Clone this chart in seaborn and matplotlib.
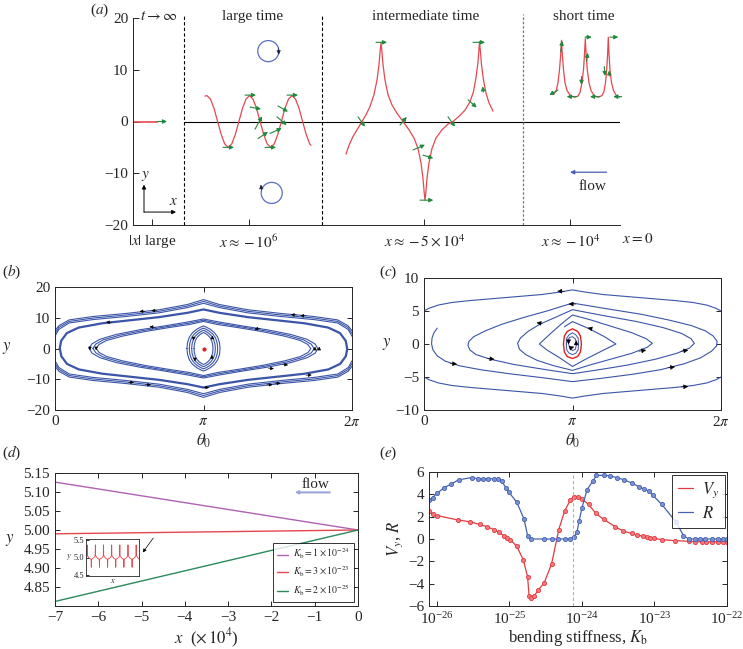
import numpy as np
import pandas as pd
import matplotlib.pyplot as plt
import seaborn as sns
from matplotlib.lines import Line2D

sns.set_style('ticks')
plt.rcParams.update({
    'font.family': 'serif',
    'font.serif': ['Liberation Serif', 'DejaVu Serif'],
    'mathtext.fontset': 'stix',
    'font.size': 11,
    'xtick.direction': 'in',
    'ytick.direction': 'in',
    'axes.linewidth': 0.7,
    'xtick.major.width': 0.7,
    'ytick.major.width': 0.7,
    'xtick.major.size': 4,
    'ytick.major.size': 4,
    'xtick.labelsize': 11,
    'ytick.labelsize': 11,
})

RED = '#e5474f'
GREEN = '#1f8a3c'
BLUE = '#3b55a8'
TWO_PI = 2 * np.pi

# ---------------- panel (a) data (x in schematic units) ----------------
a_tick_pos = [152, 249, 424.3, 570.3]
a_tick_labels = [r'$|x|$ large', r'$x \approx -10^6$', r'$x \approx -5 \times 10^4$', r'$x \approx -10^4$']
a_region_x = [184.3, 321.7, 522.7]
a_headers = [r'$t \rightarrow \infty$', 'large time', 'intermediate time', 'short time']
a_header_x = [140, 253, 426, 584]

large_x = [205, 207, 210.5, 214.1, 217.6, 221.2, 224.7, 228.25, 231.8, 235.3, 238.9, 242.4, 246,
           249.5, 253, 256.6, 260.1, 263.7, 267.2, 270.75, 274.3, 277.8, 281.4, 284.9, 288.5,
           292, 295.5, 299.1, 302.6, 306.2, 309.7, 311]
large_y = [4.9, 5, 4.33, 2.5, 0, -2.5, -4.33, -5, -4.33, -2.5, 0, 2.5, 4.33,
           5, 4.33, 2.5, 0, -2.5, -4.33, -5, -4.33, -2.5, 0, 2.5, 4.33,
           5, 4.33, 2.5, 0, -2.5, -4.33, -4.6]

inter_x = [346, 349, 353, 358, 362, 366, 370, 374, 377, 379, 380.3, 381,
           381.7, 383, 385, 388, 392, 397, 403, 409, 414, 418, 421, 423, 424.3, 425,
           425.7, 427, 429, 432, 436, 442, 448, 453, 459, 465, 470, 473.5, 476, 478, 479, 479.5,
           480.2, 481.5, 483.5, 486, 489, 493]
inter_y = [-6.3, -4.6, -2.9, -1.3, 0, 1.3, 2.9, 5.2, 8, 11, 14, 15.2,
           14, 11, 8, 5.2, 3.2, 1.6, 0, -1.6, -3.2, -5.2, -8, -11, -14, -15.2,
           -14, -11, -8, -5.2, -3.2, -1.6, -0.5, 0, 1, 2.2, 3.8, 5.8, 8.5, 11.5, 14, 15.4,
           14, 11, 8, 5.5, 3.6, 2.0]

short_x = [553, 556, 558, 559.5, 560.7, 561.5, 562.3, 563.5, 565, 567, 570, 574, 578, 580, 582,
           583.5, 584.5, 585.3, 586.1, 587.3, 589, 591, 594, 598, 602, 604, 605.5, 606.7,
           607.6, 608.3, 609, 610, 611.5, 613.5, 616, 620]
short_y = [5.2, 5.8, 7.5, 10, 13, 15.7, 13, 10, 7.5, 6, 5.1, 4.7, 4.9, 5.6, 7.5,
           10, 13, 16, 13, 10, 7.5, 6, 5.0, 4.7, 5.0, 5.8, 7.5, 10,
           13, 16.3, 13, 10, 7.5, 6, 5.1, 4.7]

# green arrows: tail x, tail y, head x, head y
a_arrow_x0 = [157, 245, 287, 223, 265, 250, 255, 258, 278, 277, 270,
              376, 358, 400, 413, 423, 420, 448, 468, 483.3, 473,
              558, 560.7, 576.7, 581.7, 585, 586.7, 600, 604.3, 609.3, 610, 621.7]
a_arrow_y0 = [0, 5.1, 5.1, -5, -5, 2.8, -1.5, -3.3, 3.0, 0.9, -2.3,
              15.3, 0.9, -0.7, -5.5, -6.5, -15.2, 0.9, 4.2, 5.7, 15.3,
              6.1, 13.5, 4.8, 8.7, 16.3, 11.6, 4.8, 10.6, 8.8, 16.3, 4.8]
a_arrow_x1 = [167, 256, 298, 234, 276, 261, 262, 268, 288, 286.7, 281.7,
              387, 365, 406.7, 425, 433.3, 433.3, 455, 476.7, 482.7, 485,
              549.3, 562.3, 566.7, 581.3, 591.7, 587.7, 590, 605, 609.3, 618.3, 613.3]
a_arrow_y1 = [0, 5.1, 5.1, -5, -5, 2.4, 1.0, -2.0, 1.9, -0.7, -1.3,
              15.3, -1.0, 0.9, -4.5, -7.1, -15.2, -1.0, 2.7, 6.8, 15.3,
              5.1, 15.6, 4.8, 7.1, 16.3, 13.3, 4.8, 8.8, 9.9, 16.3, 4.8]

vortex_x = [268.3, 271.7]
vortex_y = [13.6, -13.8]

# ---------------- panel (b) data ----------------
ob_x = [0, 0.08, 0.3, 0.8, 1.5, 2.2, 2.8, np.pi, 3.48, 4.08, 4.78, 5.48, 5.98, 6.20, TWO_PI]
ob_y1 = [5.8, 7.4, 9.3, 10.4, 11.4, 12.6, 14.3, 15.9, 14.3, 12.6, 11.4, 10.4, 9.3, 7.4, 5.8]
ob_y2 = [4.9, 6.8, 8.8, 9.9, 10.9, 12.1, 13.8, 15.3, 13.8, 12.1, 10.9, 9.9, 8.8, 6.8, 4.9]
ob_y3 = [4.0, 6.2, 8.3, 9.4, 10.4, 11.6, 13.3, 14.7, 13.3, 11.6, 10.4, 9.4, 8.3, 6.2, 4.0]

thick_x = [0.10, 0.13, 0.25, 0.5, 1.0, 1.6, 2.2, 2.8, np.pi, 3.48, 4.08, 4.68, 5.28, 5.78, 6.03, 6.15, 6.18]
thick_y = [0, 2.5, 5.0, 6.8, 8.2, 9.2, 10.2, 11.6, 12.7, 11.6, 10.2, 9.2, 8.2, 6.8, 5.0, 2.5, 0]

lens1_x = [0.72, 0.78, 0.95, 1.3, 1.8, 2.3, 2.8, np.pi, 3.48, 3.98, 4.48, 4.98, 5.33, 5.50, 5.56]
lens1_y = [0, 1.5, 3.0, 4.6, 6.1, 7.3, 8.6, 9.6, 8.6, 7.3, 6.1, 4.6, 3.0, 1.5, 0]
lens2_x = [0.80, 0.86, 1.02, 1.36, 1.85, 2.33, 2.82, np.pi, 3.46, 3.95, 4.43, 4.92, 5.26, 5.42, 5.48]
lens2_y = [0, 1.4, 2.8, 4.3, 5.8, 7.0, 8.2, 9.2, 8.2, 7.0, 5.8, 4.3, 2.8, 1.4, 0]
lens3_x = [0.87, 0.93, 1.09, 1.42, 1.90, 2.37, 2.84, np.pi, 3.44, 3.91, 4.38, 4.86, 5.19, 5.35, 5.41]
lens3_y = [0, 1.3, 2.6, 4.0, 5.5, 6.7, 7.8, 8.8, 7.8, 6.7, 5.5, 4.0, 2.6, 1.3, 0]

oval_fx = [-1, -0.97, -0.86, -0.67, -0.42, -0.18, 0, 0.18, 0.42, 0.67, 0.86, 0.97, 1]
oval_fy = [0, 0.25, 0.5, 0.7, 0.85, 0.95, 1, 0.95, 0.85, 0.7, 0.5, 0.25, 0]
oval_half_width = [0.35, 0.30, 0.25, 0.20]
oval_height = [7.3, 6.6, 5.9, 5.2]

b_arr_x = [1.91, 2.16, 1.20, 2.12, 4.34, 5.11, 5.31, 0.74, 0.87, 5.50, 5.59,
           1.55, 1.91, 4.48, 4.65, 4.51, 4.81, 5.31, np.pi, 2.93, 3.33, 3.32, 2.96]
b_arr_y = [12.1, 12.3, 8.5, 6.9, 6.5, 10.9, 10.6, 0.3, 0.3, -0.3, -0.3,
           -11.0, -11.8, -11.8, -11.3, -6.4, -5.2, -8.7, -12.7, 3.5, 3.3, -3.0, -3.3]
b_arr_dx = [-1, -1, -1, -1, -1, -1, -1, 0, 0, 0, 0,
            1, 1, 1, 1, 1, 1, 1, 1, 0, 0, 0, 0]
b_arr_dy = [0, 0, 0.1, 0.2, -0.2, 0.1, 0.1, -1, -1, 1, 1,
            0, 0, 0, 0, -0.2, -0.2, 0.1, 0, -1, 1, 1, -1]

# ---------------- panel (c) data ----------------
c_top_x = [0, 0.1, 0.3, 0.6, 1.0, 1.5, 2.0, 2.5, 2.9, np.pi,
           3.38, 3.78, 4.28, 4.78, 5.28, 5.68, 5.98, 6.18, TWO_PI]
c_top_y = [5.0, 5.4, 5.9, 6.3, 6.6, 6.9, 7.2, 7.5, 7.9, 8.2,
           7.9, 7.5, 7.2, 6.9, 6.6, 6.3, 5.9, 5.4, 5.0]

spiral_x = [0.28, 0.21, 0.17, 0.16, 0.19, 0.28, 0.45, 0.75, 1.2, 1.8, 2.5, np.pi, 3.75, 4.4, 5.0,
            5.5, 5.85, 6.08, 6.19, 6.2, 6.12, 5.95, 5.65, 5.2, 4.6, 3.9, np.pi, 2.6, 2.1, 1.65,
            1.3, 1.05, 0.95, 0.93,
            0.97, 1.1, 1.4, 1.9, 2.5, np.pi, 3.7, 4.3, 4.9, 5.35, 5.62, 5.72, 5.65, 5.45, 5.05,
            4.5, 3.8, np.pi, 2.8, 2.45, 2.2, 2.04, 1.98,
            2.02, 2.15, 2.4, 2.75, np.pi, 3.5, 3.95, 4.4, 4.72, 4.83, 4.7, 4.4, 3.95, 3.55,
            np.pi, 2.9, 2.68, 2.44,
            2.6, 2.85, np.pi, 3.42, 3.75, 4.06, 3.82, 3.5, np.pi, 2.97]
spiral_y = [2.4, 1.7, 0.9, 0, -0.9, -1.8, -2.6, -3.3, -3.9, -4.5, -5.1, -5.7, -5.2, -4.6, -3.9,
            -3.0, -2.1, -1.1, -0.3, 0.4, 1.2, 2.0, 2.8, 3.6, 4.5, 5.3, 6.2, 5.0, 4.0, 3.0,
            2.0, 1.1, 0.4, -0.2,
            -0.9, -1.6, -2.3, -3.1, -3.8, -4.5, -3.9, -3.2, -2.3, -1.4, -0.6, 0.1, 0.8, 1.6, 2.5,
            3.4, 4.3, 5.2, 4.1, 3.0, 1.9, 0.9, 0.1,
            -0.8, -1.6, -2.5, -3.3, -4.0, -3.2, -2.3, -1.4, -0.5, 0.1, 0.8, 1.7, 2.7, 3.6,
            4.4, 3.0, 1.6, 0,
            -0.9, -2.0, -3.4, -2.3, -1.1, 0, 1.1, 2.3, 3.4, 2.6]

cycle_x = [2.95, 2.97, 3.03, np.pi, 3.25, 3.31, 3.33, 3.31, 3.25, np.pi, 3.03, 2.97, 2.95]
cycle_y = [0, 1.2, 1.9, 2.3, 1.9, 1.2, 0, -1.2, -1.9, -2.2, -1.9, -1.2, 0]
inner_x = [3.01, 3.02, 3.07, np.pi, 3.21, 3.26, 3.27, 3.26, 3.21, np.pi, 3.07, 3.02, 3.01,
           3.04, 3.08, np.pi, 3.2, 3.23, 3.2, np.pi, 3.08, 3.06]
inner_y = [0, 0.9, 1.4, 1.7, 1.4, 0.9, 0, -0.9, -1.4, -1.6, -1.4, -0.9, 0,
           0.6, 1.0, 1.1, 0.8, 0, -0.8, -1.0, -0.6, 0]

c_arr_x = [2.97, 3.21, 2.5, 3.55, 1.34, 0.55, 4.55, 5.44, 5.16, 5.44, 3.06, 3.22, 3.10]
c_arr_y = [8.0, 6.05, 3.1, 2.3, -2.2, -2.95, -1.1, -1.1, -3.6, -6.5, 0.3, 0.2, -0.6]
c_arr_dx = [-1, -1, -0.8, -0.6, 1, 1, 1, 1, 1, 1, 0, 0, 0.5]
c_arr_dy = [0, 0, 0.4, 0.4, -0.3, -0.3, 0.5, 0.5, 0.4, 0.15, -1, 1, 0.5]

# ---------------- panel (d) data ----------------
d_x = [-7, 0]
d_kb_labels = [r'$K_\mathrm{b} = 1 \times 10^{-24}$', r'$K_\mathrm{b} = 3 \times 10^{-23}$',
               r'$K_\mathrm{b} = 2 \times 10^{-25}$']
d_y_start = [5.126, 4.99, 4.812]
d_y_end = [5.0, 5.0, 5.0]
d_colors = ['#b061b3', '#e5474f', '#2b8a5c']

inset_x = [0, 0.12, 0.15, 0.18, 0.4, 0.62, 0.65, 0.68,
           1, 1.12, 1.15, 1.18, 1.4, 1.62, 1.65, 1.68,
           2, 2.12, 2.15, 2.18, 2.4, 2.62, 2.65, 2.68,
           3, 3.12, 3.15, 3.18, 3.4, 3.62, 3.65, 3.68,
           4, 4.12, 4.15, 4.18, 4.4, 4.62, 4.65, 4.68,
           5, 5.12, 5.15, 5.18, 5.4, 5.62, 5.65, 5.68,
           6, 6.12, 6.15, 6.18, 6.4, 6.5]
inset_y = [5.0, 5.05, 5.36, 5.05, 4.98, 4.95, 4.72, 4.95,
           5.0, 5.05, 5.36, 5.05, 4.98, 4.95, 4.72, 4.95,
           5.0, 5.05, 5.36, 5.05, 4.98, 4.95, 4.72, 4.95,
           5.0, 5.05, 5.36, 5.05, 4.98, 4.95, 4.72, 4.95,
           5.0, 5.05, 5.36, 5.05, 4.98, 4.95, 4.72, 4.95,
           5.0, 5.05, 5.36, 5.05, 4.98, 4.95, 4.72, 4.95,
           5.0, 5.05, 5.36, 5.05, 4.98, 4.95]

# ---------------- panel (e) data ----------------
r_logk = [-26.11, -26.06, -26.0, -25.90, -25.81, -25.70, -25.52, -25.43, -25.36, -25.29, -25.22,
          -25.16, -25.11, -25.05, -25.01, -24.90, -24.80, -24.75, -24.71, -24.52, -24.42, -24.33,
          -24.23, -24.17, -24.11, -24.07, -24.04, -24.0, -23.93, -23.85, -23.80, -23.70, -23.61,
          -23.52, -23.42, -23.31, -23.22, -23.15, -23.08, -23.02, -22.90, -22.70, -22.60, -22.53,
          -22.44, -22.37, -22.30, -22.21, -22.12, -22.05, -22.0]
r_vals = [3.5, 3.7, 4.1, 4.6, 4.9, 5.3, 5.5, 5.4, 5.4, 5.4, 5.4,
          5.4, 5.2, 4.6, 4.2, 3.3, 1.8, 0.3, 0.0, 0, 0, 0,
          0, 0, 0.2, 0.6, 1.6, 2.8, 4.4, 5.2, 5.7, 5.7, 5.65,
          5.5, 5.3, 5.0, 4.7, 4.5, 4.3, 3.9, 3.1, 1.5, 0.3, 0,
          0, 0, 0, 0, 0, 0, 0]
vy_logk = [-26.11, -26.06, -26.0, -25.71, -25.55, -25.41, -25.31, -25.22, -25.15, -25.08, -25.04,
           -24.99, -24.90, -24.81, -24.75, -24.73, -24.70, -24.66, -24.60, -24.52, -24.42, -24.32,
           -24.24, -24.16, -24.11, -24.05, -24.0, -23.91, -23.81, -23.70, -23.54, -23.43, -23.31,
           -23.24, -23.16, -23.11, -23.06, -23.01, -22.90, -22.72, -22.53, -22.44, -22.35, -22.29,
           -22.21, -22.12, -22.05, -22.0]
vy_vals = [2.5, 2.2, 2.1, 1.7, 1.55, 1.3, 1.1, 0.85, 0.6, 0.3, 0.1,
           -0.05, -0.65, -1.85, -3.4, -5.1, -5.3, -5.1, -4.55, -3.9, -2.25, 0.85,
           2.5, 3.5, 3.8, 3.8, 3.6, 3.1, 2.3, 1.75, 1.1, 0.7, 0.5,
           0.35, 0.25, 0.17, 0.1, 0.05, -0.05, -0.15, -0.2, -0.25, -0.25, -0.25,
           -0.25, -0.25, -0.25, -0.25]
e_marker_logk = -24.13


def arrows(ax, x0, y0, x1, y1, color, ms=7, lw=0.8):
    for xa, ya, xb, yb in zip(x0, y0, x1, y1):
        ax.annotate('', xy=(xb, yb), xytext=(xa, ya),
                    arrowprops=dict(arrowstyle='-|>', color=color, lw=lw,
                                    mutation_scale=ms, shrinkA=0, shrinkB=0))


def box_axes(ax):
    ax.tick_params(top=True, right=True, direction='in', length=3.5)


fig = plt.figure(figsize=(7.43, 6.49), dpi=100)

# ---------------- (a) ----------------
ax_a = fig.add_axes([133 / 743, 1 - 225 / 649, 487 / 743, 207 / 649])
ax_a.set_xlim(133, 620)
ax_a.set_ylim(-20, 20)
ax_a.spines['top'].set_visible(False)
ax_a.spines['right'].set_visible(False)
ax_a.set_yticks([-20, -10, 0, 10, 20])
ax_a.set_xticks(a_tick_pos)
ax_a.set_xticklabels(a_tick_labels)
ax_a.tick_params(axis='x', pad=6)
ax_a.hlines(0, a_region_x[0], 620, color='k', lw=0.8)
ax_a.plot([133, 157], [0, 0], color=RED, lw=1.2)
ax_a.vlines(a_region_x[:2], -20, 20.8, colors='k', linestyles=(0, (3, 2)), lw=0.8, clip_on=False)
ax_a.vlines(a_region_x[2:], -20, 20.8, colors='#777777', linestyles=(0, (2, 1.5)), lw=0.9, clip_on=False)
for hx, htxt in zip(a_header_x, a_headers):
    ax_a.text(hx, 20.3, htxt, ha='left' if hx == a_header_x[0] else 'center', va='center',
              fontsize=11, clip_on=False)
ax_a.plot(large_x, large_y, color=RED, lw=0.9)
ax_a.plot(inter_x, inter_y, color=RED, lw=0.9)
ax_a.plot(short_x, short_y, color=RED, lw=0.9)
arrows(ax_a, a_arrow_x0, a_arrow_y0, a_arrow_x1, a_arrow_y1, GREEN, ms=6, lw=0.8)
ax_a.scatter(vortex_x, vortex_y, s=230, facecolors='none', edgecolors='#5b6fc0', linewidths=0.9)
arrows(ax_a, [278.5, 261.5], [14.2, -13.3], [278.8, 260.8], [12.9, -12.2], '#202040', ms=6, lw=0.5)
ax_a.text(638, -22.7, r'$x = 0$', ha='center', va='center', fontsize=11, clip_on=False)
ax_a.text(592.7, -12.6, 'flow', ha='center', va='center', fontsize=11)
arrows(ax_a, [606.7], [-9.8], [570], [-9.8], '#4a5fb5', ms=6, lw=0.9)
arrows(ax_a, [144, 144], [-17.5, -17.5], [144, 176], [-12.2, -17.5], 'k', ms=6, lw=0.7)
ax_a.text(145.7, -10.6, r'$y$', ha='center', va='center', fontsize=11)
ax_a.text(173.3, -15.4, r'$x$', ha='center', va='center', fontsize=11)
fig.text(100 / 743, 1 - 10 / 649, r'($a$)', ha='center', va='center', fontsize=11)

# ---------------- (b) ----------------
ax_b = fig.add_axes([55 / 743, 1 - 410 / 649, 297 / 743, 123 / 649])
ax_b.set_xlim(0, TWO_PI)
ax_b.set_ylim(-20, 20)
for oy in [ob_y1, ob_y2, ob_y3]:
    ax_b.plot(ob_x, oy, color=BLUE, lw=0.8)
    ax_b.plot([TWO_PI - v for v in ob_x], [-v for v in oy], color=BLUE, lw=0.8)
for cx, cy, lw in [(thick_x, thick_y, 1.6), (lens1_x, lens1_y, 0.8),
                   (lens2_x, lens2_y, 0.8), (lens3_x, lens3_y, 0.8)]:
    ax_b.plot(list(cx) + [TWO_PI - v for v in cx], list(cy) + [-v for v in cy], color=BLUE, lw=lw)
for hw, hh in zip(oval_half_width, oval_height):
    ox = [np.pi + f * hw for f in oval_fx]
    oy = [f * hh for f in oval_fy]
    ax_b.plot(ox + [TWO_PI - v for v in ox], oy + [-v for v in oy], color=BLUE, lw=0.8)
ax_b.plot([np.pi], [0], 'o', color='#e02020', ms=2)
arrows(ax_b, b_arr_x, b_arr_y, [x + 0.12 * dx for x, dx in zip(b_arr_x, b_arr_dx)],
       [y + 0.9 * dy for y, dy in zip(b_arr_y, b_arr_dy)], 'k', ms=5, lw=0.4)
ax_b.set_xticks([0, np.pi, TWO_PI])
ax_b.set_xticklabels(['0', r'$\pi$', r'2$\pi$'])
ax_b.set_yticks([-20, -10, 0, 10, 20])
ax_b.set_xlabel(r'$\theta_0$', fontsize=12, labelpad=2)
ax_b.set_ylabel(r'$y$', fontsize=12, rotation=0, labelpad=14, va='center')
box_axes(ax_b)
fig.text(12 / 743, 1 - 272 / 649, r'($b$)', ha='center', va='center', fontsize=11)

# ---------------- (c) ----------------
ax_c = fig.add_axes([424 / 743, 1 - 410 / 649, 297 / 743, 132 / 649])
ax_c.set_xlim(0, TWO_PI)
ax_c.set_ylim(-10, 10)
ax_c.plot(c_top_x, c_top_y, color=BLUE, lw=0.8)
ax_c.plot([TWO_PI - v for v in c_top_x], [-v for v in c_top_y], color=BLUE, lw=0.8)
ax_c.plot(spiral_x, spiral_y, color=BLUE, lw=0.8)
ax_c.plot(inner_x, inner_y, color=BLUE, lw=0.7)
ax_c.plot(cycle_x, cycle_y, color='#e02020', lw=1.0)
arrows(ax_c, c_arr_x, c_arr_y, [x + 0.15 * dx for x, dx in zip(c_arr_x, c_arr_dx)],
       [y + 0.35 * dy for y, dy in zip(c_arr_y, c_arr_dy)], 'k', ms=7, lw=0.4)
ax_c.set_xticks([0, np.pi, TWO_PI])
ax_c.set_xticklabels(['0', r'$\pi$', r'2$\pi$'])
ax_c.set_yticks([-10, -5, 0, 5, 10])
ax_c.set_xlabel(r'$\theta_0$', fontsize=12, labelpad=2)
ax_c.set_ylabel(r'$y$', fontsize=12, rotation=0, labelpad=6, va='center')
box_axes(ax_c)
fig.text(388 / 743, 1 - 272 / 649, r'($c$)', ha='center', va='center', fontsize=11)

# ---------------- (d) ----------------
ax_d = fig.add_axes([55 / 743, 1 - 606 / 649, 303 / 743, 133 / 649])
d_rows = []
for lab, y0, y1 in zip(d_kb_labels, d_y_start, d_y_end):
    d_rows.append({'x': d_x[0], 'y': y0, 'Kb': lab})
    d_rows.append({'x': d_x[1], 'y': y1, 'Kb': lab})
df_d = pd.DataFrame(d_rows)
sns.lineplot(data=df_d, x='x', y='y', hue='Kb', palette=d_colors, lw=1.0, ax=ax_d)
ax_d.set_xlim(-7, 0)
ax_d.set_ylim(4.80, 5.15)
ax_d.set_xticks(range(-7, 1))
ax_d.set_yticks([4.85, 4.90, 4.95, 5.00, 5.05, 5.10, 5.15])
ax_d.set_yticklabels(['4.85', '4.90', '4.95', '5.00', '5.05', '5.10', '5.15'])
ax_d.set_xlabel(r'$x$  ($\times\,10^4$)', fontsize=12, labelpad=2)
ax_d.set_ylabel(r'$y$', fontsize=12, rotation=0, labelpad=10, va='center')
leg = ax_d.legend(loc='lower right', fontsize=7, handlelength=1.1, handletextpad=0.5, frameon=True,
                  fancybox=False, borderpad=0.45, labelspacing=0.35, edgecolor='k', borderaxespad=0.4)
leg.get_frame().set_linewidth(0.7)
ax_d.text(-0.99, 5.121, 'flow', ha='center', va='center', fontsize=11)
arrows(ax_d, [-0.65], [5.099], [-1.46], [5.099], '#9aa6d8', ms=4, lw=1.5)
arrows(ax_d, [-4.73], [4.979], [-4.97], [4.941], 'k', ms=5, lw=0.5)
box_axes(ax_d)
fig.text(12 / 743, 1 - 453 / 649, r'($d$)', ha='center', va='center', fontsize=11)

ax_in = fig.add_axes([86 / 743, 1 - 576 / 649, 53 / 743, 37 / 649])
ax_in.plot(inset_x, inset_y, color=RED, lw=0.6)
ax_in.set_xlim(0, 6.5)
ax_in.set_ylim(4.47, 5.53)
ax_in.set_xticks([])
ax_in.set_yticks([4.5, 5.0, 5.5])
ax_in.tick_params(labelsize=6, length=2, pad=1)
ax_in.set_ylabel(r'$y$', fontsize=6, rotation=0, labelpad=4, va='center')
ax_in.set_xlabel(r'$x$', fontsize=6, labelpad=1)
for sp in ax_in.spines.values():
    sp.set_linewidth(0.6)

# ---------------- (e) ----------------
ax_e = fig.add_axes([429 / 743, 1 - 606 / 649, 298 / 743, 134 / 649])
sns.lineplot(x=[10 ** v for v in vy_logk], y=vy_vals, color='#e23a3f', marker='o', ms=3.0,
             mfc='#f07a7e', mec='#e23a3f', mew=0.6, lw=0.9, ax=ax_e)
sns.lineplot(x=[10 ** v for v in r_logk], y=r_vals, color='#4561b2', marker='o', ms=3.0,
             mfc='#7d92d2', mec='#4561b2', mew=0.6, lw=0.9, ax=ax_e)
ax_e.axvline(10 ** e_marker_logk, color='#c9b27a', ls=(0, (3, 2)), lw=0.8)
ax_e.set_xscale('log')
ax_e.set_xlim(10 ** -26.11, 1e-22)
ax_e.set_ylim(-6, 6)
ax_e.set_xticks([1e-26, 1e-25, 1e-24, 1e-23, 1e-22])
ax_e.xaxis.set_minor_locator(plt.NullLocator())
ax_e.set_yticks([-6, -4, -2, 0, 2, 4, 6])
ax_e.set_xlabel(r'bending stiffness, $K_\mathrm{b}$', fontsize=12, labelpad=1)
ax_e.set_ylabel(r'$V_y$, $R$', fontsize=12, labelpad=2)
e_handles = [Line2D([], [], color='#e23a3f', lw=0.9), Line2D([], [], color='#4561b2', lw=0.9)]
leg_e = ax_e.legend(e_handles, [r'$V_y$', r'$R$'], loc='upper right', fontsize=12, handlelength=0.9,
                    handletextpad=0.5, frameon=True, fancybox=False, edgecolor='k', borderpad=0.35,
                    labelspacing=0.35, borderaxespad=0.15)
leg_e.get_frame().set_linewidth(0.7)
box_axes(ax_e)
fig.text(388 / 743, 1 - 453 / 649, r'($e$)', ha='center', va='center', fontsize=11)

fig.savefig('out.png', dpi=100)
